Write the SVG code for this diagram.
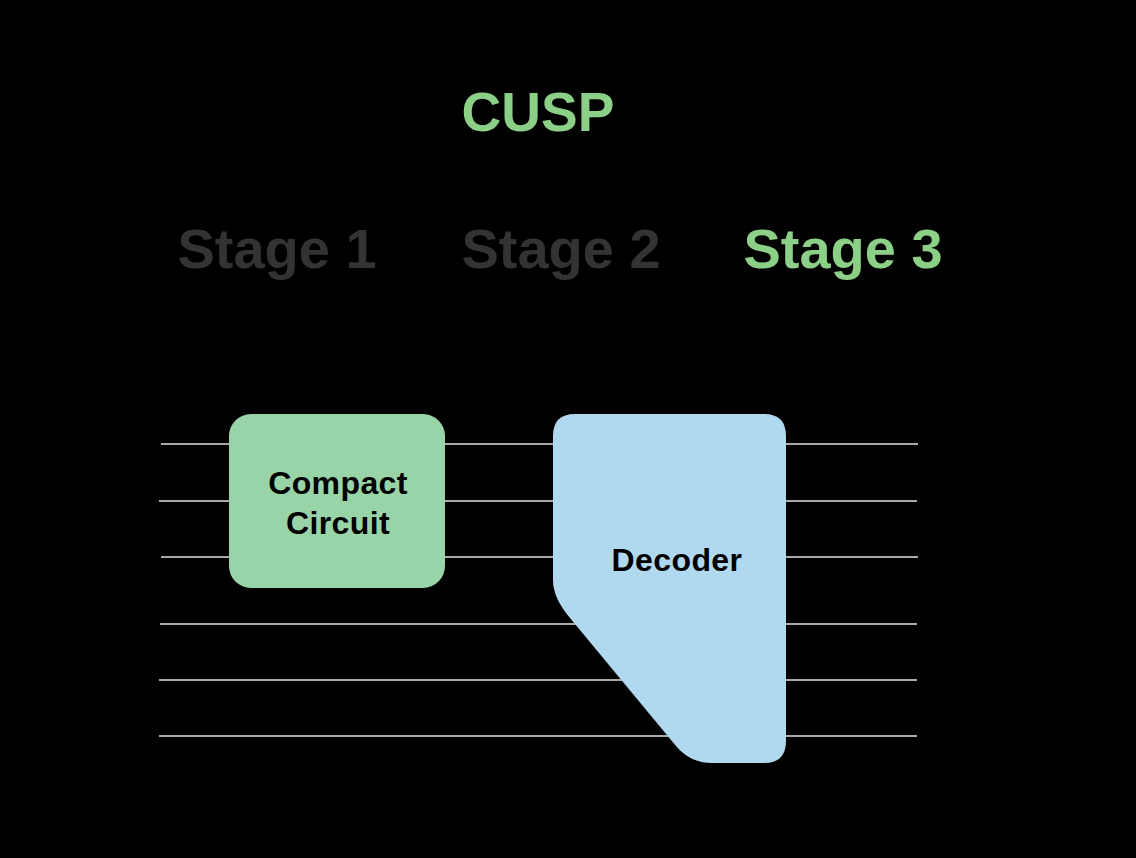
<svg xmlns="http://www.w3.org/2000/svg" width="1136" height="858" viewBox="0 0 1136 858">
<style>
.t{font-family:"Liberation Sans",Arial,sans-serif;font-weight:bold;text-anchor:middle}
.h{font-size:55px}
.s{font-size:56px}
.g{fill:#8CCF86}
.d{fill:#333333}
.lbl{font-size:32px;fill:#000;letter-spacing:0.4px}
.w{stroke:#e0e0e0;stroke-width:1.5;fill:none}
</style>
<rect width="1136" height="858" fill="#000"/>
<text class="t h g" x="538" y="131">CUSP</text>
<text class="t s d" x="277" y="268">Stage 1</text>
<text class="t s d" x="561" y="268">Stage 2</text>
<text class="t s g" x="843" y="268">Stage 3</text>
<g id="wires">
<line class="w" x1="161" y1="444" x2="918" y2="444"/>
<line class="w" x1="159" y1="501" x2="917" y2="501"/>
<line class="w" x1="161" y1="557" x2="918" y2="557"/>
<line class="w" x1="160" y1="624" x2="917" y2="624"/>
<line class="w" x1="159" y1="680" x2="917" y2="680"/>
<line class="w" x1="159" y1="736" x2="917" y2="736"/>
</g>
<g id="compact">
<rect x="229" y="414" width="216" height="174" rx="22" fill="#99D3A8"/>
<text class="t lbl" x="338" y="494">Compact</text>
<text class="t lbl" x="338" y="534">Circuit</text>
</g>
<g id="decoder">
<path d="M575,414 L764,414 Q786,414 786,436 L786,741 Q786,763 764,763 L712,763 Q690,763 676,746 L570,618 Q553,598 553,580 L553,436 Q553,414 575,414 Z" fill="#B0D8EF"/>
<text class="t lbl" x="677" y="571">Decoder</text>
</g>
</svg>
